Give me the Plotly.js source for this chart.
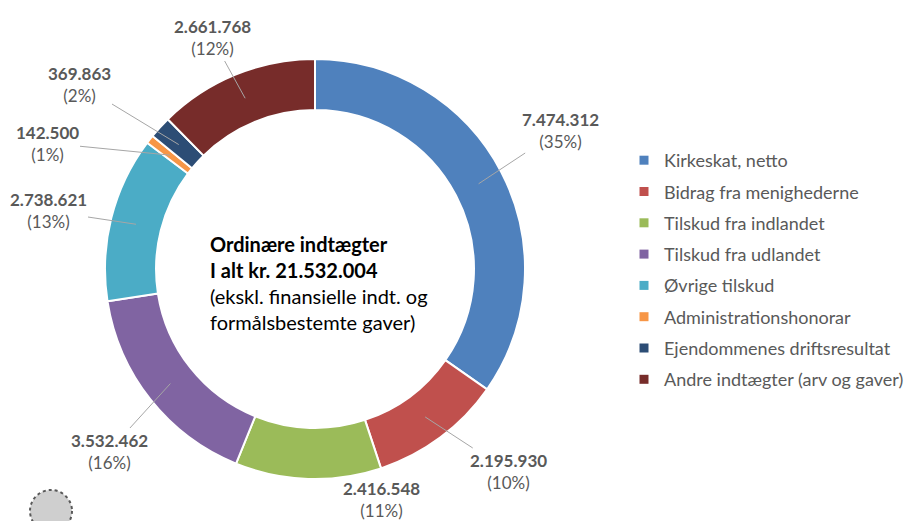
<!DOCTYPE html>
<html>
<head>
<meta charset="utf-8">
<script src="https://cdn.plot.ly/plotly-3.0.1.min.js"></script>
<style>html,body{margin:0;padding:0;background:#fff;}#chart{width:911px;height:521px;}</style>
</head>
<body>
<div id="chart"></div>
<script>
// ---- data ----
const categories = ["Kirkeskat, netto", "Bidrag fra menighederne", "Tilskud fra indlandet", "Tilskud fra udlandet", "Øvrige tilskud", "Administrationshonorar", "Ejendommenes driftsresultat", "Andre indtægter (arv og gaver)"];
const values = [7474312, 2195930, 2416548, 3532462, 2738621, 142500, 369863, 2661768];
const centerLines = ["Ordinære indtægter", "I alt kr. 21.532.004", "(ekskl. finansielle indt. og", "formålsbestemte gaver)"];

// ---- styles / layout helpers ----
const colors = ["#4F81BD", "#C0504D", "#9BBB59", "#8064A2", "#4BACC6", "#F79646", "#2C4D75", "#772C2A"];
const W = 911, H = 521;
const CX = 315, CY = 269, R = 210, HOLE = 0.757;
// label block offsets (px) from pie centre
const labelOffsets = [[245,-139],[193,202],[66,230],[-206,182],[-267,-58],[-268,-126],[-236,-185],[-103,-231]];
const showLeader = [true,true,false,true,true,true,true,true];

function fmt(n){ return String(n).replace(/\B(?=(\d{3})+(?!\d))/g, "."); }
const total = values.reduce((a,b)=>a+b,0);

const font = "Lato, 'Open Sans', sans-serif";
const grey = "#595959";

const traces = [{
  type: "pie",
  labels: categories,
  values: values,
  sort: false,
  direction: "clockwise",
  rotation: 0,
  hole: HOLE,
  textinfo: "none",
  hoverinfo: "label+value+percent",
  marker: {colors: colors, line: {color: "#ffffff", width: 2}},
  showlegend: false,
  domain: {x: [(CX-R)/W, (CX+R)/W], y: [1-(CY+R)/H, 1-(CY-R)/H]}
}];

// legend entries
categories.forEach((c,i)=>{
  traces.push({
    type: "scatter", mode: "markers", x: [null], y: [null],
    name: c, legendgroup: "g"+i, showlegend: true,
    marker: {symbol: "square", size: 9, color: colors[i]},
    hoverinfo: "skip"
  });
});

const annotations = [];
let cum = 0;
values.forEach((v,i)=>{
  const mid = (cum + v/2)/total * 2*Math.PI; // clockwise from 12 o'clock
  cum += v;
  const rMid = R*(1+HOLE)/2;
  const axp = CX + rMid*Math.sin(mid);
  const ayp = CY - rMid*Math.cos(mid);
  const tx = CX + labelOffsets[i][0];
  const ty = CY + labelOffsets[i][1];
  annotations.push({
    xref: "paper", yref: "paper",
    x: axp/W, y: 1-ayp/H,
    ax: tx-axp, ay: ty-ayp,
    showarrow: true, arrowhead: 0, arrowwidth: 1,
    arrowcolor: showLeader[i] ? "#a6a6a6" : "rgba(0,0,0,0)",
    standoff: 0, startstandoff: 0,
    text: "<b>" + fmt(v) + "</b><br>(" + Math.round(v/total*100) + "%)",
    font: {family: font, size: 17, color: grey},
    align: "center"
  });
});

annotations.push({
  xref: "paper", yref: "paper", x: 208/W, y: 1-283/H,
  xanchor: "left", yanchor: "middle", align: "left", showarrow: false,
  text: "<b>" + centerLines[0] + "</b><br><b>" + centerLines[1] + "</b><br>" + centerLines[2] + "<br>" + centerLines[3],
  font: {family: font, size: 20, color: "#000000"}
});

const layout = {
  width: W, height: H,
  margin: {l: 0, r: 0, t: 0, b: 0},
  paper_bgcolor: "#ffffff", plot_bgcolor: "#ffffff",
  xaxis: {visible: false}, yaxis: {visible: false},
  showlegend: true,
  legend: {x: 624/W, y: 1-142/H, xanchor: "left", yanchor: "top",
           font: {family: font, size: 18, color: grey}, tracegroupgap: 4.9,
           bgcolor: "rgba(0,0,0,0)"},
  annotations: annotations,
  shapes: [{type: "circle", xref: "paper", yref: "paper",
            x0: 30/W, x1: 72/W, y0: 1-532/H, y1: 1-490/H,
            fillcolor: "#cfcfcf", line: {color: "#595959", width: 2, dash: "dot"}}]
};

Plotly.newPlot("chart", traces, layout, {displayModeBar: false, staticPlot: true});
</script>
</body>
</html>
